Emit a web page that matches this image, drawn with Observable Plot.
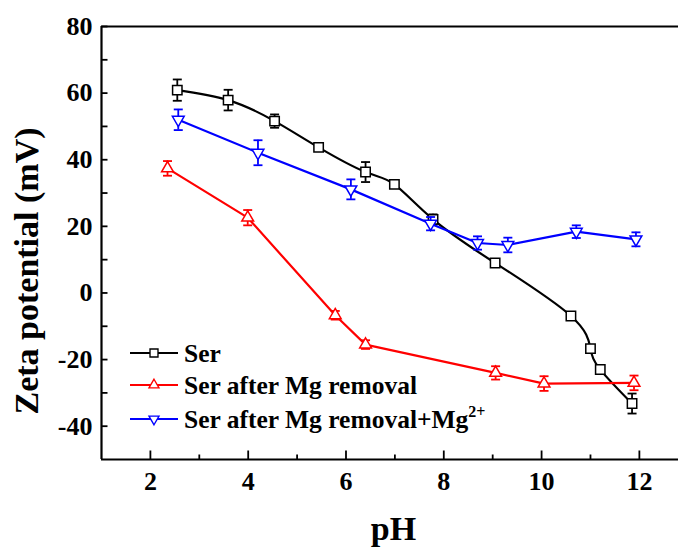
<!DOCTYPE html>
<html><head><meta charset="utf-8">
<script src="https://cdn.jsdelivr.net/npm/d3@7"></script>
<script src="https://cdn.jsdelivr.net/npm/@observablehq/plot@0.6"></script>
<style>html,body{margin:0;padding:0;background:#fff}</style>
</head><body><div id="chart"></div>
<script>
// ---- data ----
const serPH   = [2.55, 3.59, 4.54, 5.44, 6.40, 6.99, 7.78, 9.05, 10.60, 11.00, 11.20, 11.85];
const serZeta = [60.9, 57.9, 51.6, 43.7, 36.3, 32.6, 22.1, 9.0, -6.9, -16.7, -23.0, -33.2];
const serErr  = [3.2, 3.1, 2.0, 0.8, 3.0, 0.6, 1.5, 1.0, 0.6, 0.6, 0.8, 3.0];

const redPH   = [2.35, 3.99, 5.78, 6.40, 9.06, 10.05, 11.89];
const redZeta = [37.4, 22.6, -6.7, -15.5, -24.0, -27.2, -27.0];
const redErr  = [2.2, 2.3, 1.3, 1.3, 2.0, 2.2, 2.2];

const bluePH   = [2.57, 4.20, 6.10, 7.73, 8.69, 9.31, 10.71, 11.93];
const blueZeta = [52.0, 42.1, 31.1, 20.8, 15.0, 14.4, 18.4, 16.1];
const blueErr  = [3.1, 3.75, 3.0, 2.0, 2.0, 2.2, 1.9, 2.1];

const seriesNames = ["Ser", "Ser after Mg removal", "Ser after Mg removal+Mg"];
const seriesColors = ["#000000", "#ff0000", "#0000ff"];

const xMajorTicks = [2, 4, 6, 8, 10, 12];
const xMinorTicks = [3, 5, 7, 9, 11];
const yTickLabels = [80, 60, 40, 20, 0, -20, -40];
const yAllTicks = [80, 70, 60, 50, 40, 30, 20, 10, 0, -10, -20, -30, -40];

// ---- symbols ----
const square = {draw(c){ const h = 4.7; c.moveTo(-h,-h); c.lineTo(h,-h); c.lineTo(h,h); c.lineTo(-h,h); c.closePath(); }};
const triUp = {draw(c){ c.moveTo(0,-6.8); c.lineTo(5.9,3.4); c.lineTo(-5.9,3.4); c.closePath(); }};
const triDown = {draw(c){ c.moveTo(0,6.8); c.lineTo(5.9,-3.4); c.lineTo(-5.9,-3.4); c.closePath(); }};
const cap = {draw(c){ c.moveTo(-4.5,0); c.lineTo(4.5,0); }};
const yTickSym = {draw(c){ c.moveTo(0,0); c.lineTo(6,0); }};
const xMajorSym = {draw(c){ c.moveTo(0,0); c.lineTo(0,-9); }};
const xMinorSym = {draw(c){ c.moveTo(0,0); c.lineTo(0,-5); }};

const symbols = [square, triUp, triDown];
const mk = (ph, z, e) => ph.map((p, i) => ({ph: p, z: z[i], e: e[i]}));
const sets = [mk(serPH, serZeta, serErr), mk(redPH, redZeta, redErr), mk(bluePH, blueZeta, blueErr)];
const curves = ["natural", "linear", "linear"];

const marks = [];
// frame (left, top, bottom)
marks.push(Plot.ruleX([1], {stroke: "#000", strokeWidth: 2.2}));
marks.push(Plot.ruleY([-50, 80], {stroke: "#000", strokeWidth: 2.2}));
// inward ticks
marks.push(Plot.dot(yAllTicks, {x: () => 1, y: d => d, symbol: yTickSym, stroke: "#000", strokeWidth: 1.8, fill: "none"}));
marks.push(Plot.dot(xMajorTicks, {x: d => d, y: () => -50, symbol: xMajorSym, stroke: "#000", strokeWidth: 1.8, fill: "none"}));
marks.push(Plot.dot(xMinorTicks, {x: d => d, y: () => -50, symbol: xMinorSym, stroke: "#000", strokeWidth: 1.8, fill: "none"}));
// axes labels
marks.push(Plot.axisY({ticks: yTickLabels, tickSize: 0, tickPadding: 9, tickFormat: d => String(d), label: null}));
marks.push(Plot.axisX({ticks: xMajorTicks, tickSize: 0, tickPadding: 12, tickFormat: d => String(d), label: null}));

sets.forEach((data, k) => {
  const col = seriesColors[k];
  marks.push(Plot.line(data, {x: "ph", y: "z", stroke: col, strokeWidth: 2.2, curve: curves[k]}));
  marks.push(Plot.ruleX(data, {x: "ph", y1: d => d.z - d.e, y2: d => d.z + d.e, stroke: col, strokeWidth: 1.8}));
  marks.push(Plot.dot(data, {x: "ph", y: d => d.z + d.e, symbol: cap, stroke: col, strokeWidth: 1.8, fill: "none"}));
  marks.push(Plot.dot(data, {x: "ph", y: d => d.z - d.e, symbol: cap, stroke: col, strokeWidth: 1.8, fill: "none"}));
  marks.push(Plot.dot(data, {x: "ph", y: "z", symbol: symbols[k], stroke: col, strokeWidth: 1.5, fill: "white"}));
});

marks.push(Plot.text(["pH"], {frameAnchor: "bottom", textAnchor: "middle", lineAnchor: "middle", dx: 3.5, dy: 70, fontSize: 34, fontWeight: "bold", fill: "#000"}));
marks.push(Plot.text(["Zeta potential (mV)"], {frameAnchor: "left", textAnchor: "middle", lineAnchor: "middle", rotate: -90, dx: -74, dy: 28, fontSize: 34, fontWeight: "bold", fill: "#000"}));

const svg = Plot.plot({
  width: 678, height: 547,
  marginLeft: 101, marginRight: 0, marginTop: 26, marginBottom: 88,
  x: {domain: [1, 12.8], axis: null},
  y: {domain: [-50, 80], axis: null},
  style: {fontFamily: "'Liberation Serif', 'Times New Roman', serif", fontSize: "26px", fontWeight: "bold", color: "#000", background: "#fff", overflow: "visible"},
  marks
});

// legend inside the frame
const lg = d3.select(svg).append("g")
  .attr("font-family", "'Liberation Serif', 'Times New Roman', serif")
  .attr("font-weight", "bold").attr("text-anchor", "start");
const rowsY = [353, 385, 419];
const legSym = [square, triUp, triDown];
seriesNames.forEach((name, k) => {
  const y = rowsY[k], col = seriesColors[k];
  lg.append("line").attr("x1", 130).attr("x2", 178).attr("y1", y).attr("y2", y).attr("stroke", col).attr("stroke-width", 2.2);
  const p = d3.path(); legSym[k].draw(p);
  lg.append("path").attr("d", p.toString()).attr("transform", `translate(154,${y}) scale(0.85)`).attr("fill", "white").attr("stroke", col).attr("stroke-width", 1.6);
  const t = lg.append("text").attr("x", 184).attr("y", y + 8.5).attr("font-size", 25.5).attr("fill", "#000").attr("text-anchor", "start").text(name);
  if (k === 2) t.append("tspan").attr("font-size", 16).attr("dy", -11).text("2+");
});

document.getElementById("chart").appendChild(svg);
</script>
</body></html>
